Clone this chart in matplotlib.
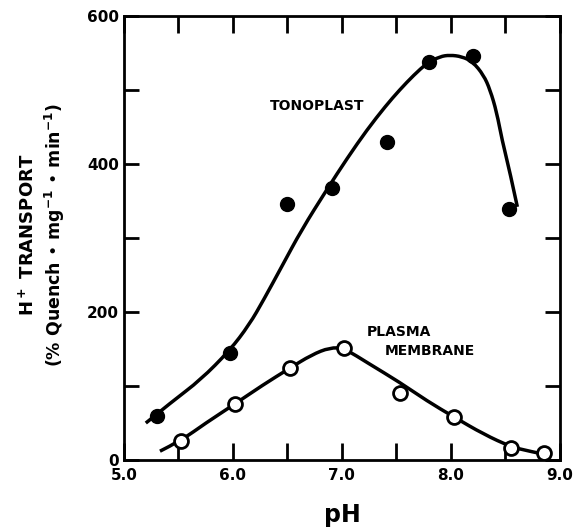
import numpy as np
import matplotlib.pyplot as plt
from matplotlib.path import Path
from matplotlib.patches import PathPatch

# measured points
tono_ph = [5.30, 5.97, 6.50, 6.91, 7.41, 7.80, 8.20, 8.53]
tono_val = [60, 144, 346, 368, 430, 538, 546, 339]
pm_ph = [5.52, 6.02, 6.52, 7.02, 7.53, 8.03, 8.55, 8.85]
pm_val = [26, 76, 124, 151, 90, 58, 16, 9]

# hand-drawn fit curves, knots
tono_fit_ph = [5.20, 5.45, 5.70, 5.97, 6.15, 6.28, 6.45, 6.63, 6.86, 7.05, 7.23, 7.40, 7.53, 7.66,
               7.78, 7.90, 7.99, 8.10, 8.20, 8.30, 8.36, 8.42, 8.47, 8.54, 8.61]
tono_fit_val = [50, 80, 108, 148, 183, 216, 262, 311, 365, 408, 446, 478, 500, 520,
                536, 545, 547, 545, 538, 520, 500, 470, 432, 390, 342]
pm_fit_ph = [5.33, 5.52, 5.75, 6.02, 6.27, 6.52, 6.72, 6.89, 7.02, 7.25, 7.53, 7.78, 8.03, 8.30,
             8.55, 8.72, 8.88]
pm_fit_val = [12, 26, 50, 76, 101, 124, 142, 152, 151, 130, 105, 80, 58, 35, 18, 12, 7]

plt.rcParams['font.family'] = ['DejaVu Sans']
plt.rcParams['font.weight'] = 'bold'

fig = plt.figure(figsize=(5.85, 5.27), dpi=100)
ax = fig.add_axes([0.212, 0.127, 0.745, 0.843])


def smooth_curve(xs, ys):
    pts = list(zip(xs, ys))
    verts = [pts[0]]
    codes = [Path.MOVETO]
    for i in range(1, len(pts) - 1):
        if i < len(pts) - 2:
            end = ((pts[i][0] + pts[i + 1][0]) / 2, (pts[i][1] + pts[i + 1][1]) / 2)
        else:
            end = pts[i + 1]
        verts += [pts[i], end]
        codes += [Path.CURVE3, Path.CURVE3]
    return PathPatch(Path(verts, codes), fill=False, lw=2.5, ec='black', capstyle='butt')


ax.add_patch(smooth_curve(tono_fit_ph, tono_fit_val))
ax.add_patch(smooth_curve(pm_fit_ph, pm_fit_val))

ax.plot(tono_ph, tono_val, 'o', color='black', markersize=10, zorder=3)
ax.plot(pm_ph, pm_val, 'o', mfc='white', mec='black', mew=2, markersize=10, zorder=3)

ax.text(6.34, 478, 'TONOPLAST', fontsize=10, fontweight='bold', va='center', ha='left')
ax.text(7.23, 173, 'PLASMA', fontsize=10, fontweight='bold', va='center', ha='left')
ax.text(7.39, 147, 'MEMBRANE', fontsize=10, fontweight='bold', va='center', ha='left')

ax.set_xlim(5.0, 9.0)
ax.set_ylim(0, 600)
ax.set_xticks([5.0, 5.5, 6.0, 6.5, 7.0, 7.5, 8.0, 8.5, 9.0])
ax.set_xticklabels(['5.0', '', '6.0', '', '7.0', '', '8.0', '', '9.0'])
ax.set_yticks([0, 100, 200, 300, 400, 500, 600])
ax.set_yticklabels(['0', '', '200', '', '400', '', '600'])
ax.tick_params(direction='in', width=2, labelsize=11, top=True, right=True)
ax.tick_params(axis='x', length=12, pad=6)
ax.tick_params(axis='y', length=11)
for lab in ax.get_xticklabels() + ax.get_yticklabels():
    lab.set_fontweight('bold')
for s in ax.spines.values():
    s.set_linewidth(2)

ax.set_xlabel('pH', fontsize=17, fontweight='bold', labelpad=14)
fig.text(0.048, 0.555, 'H$^{\\bf +}$ TRANSPORT', rotation=90, fontsize=13, fontweight='bold',
         ha='center', va='center')
fig.text(0.094, 0.555, '(% Quench \u2022 mg$^{-1}$ \u2022 min$^{-1}$)', rotation=90,
         fontsize=12.5, fontweight='bold', ha='center', va='center')

fig.savefig('out.png', dpi=100)
